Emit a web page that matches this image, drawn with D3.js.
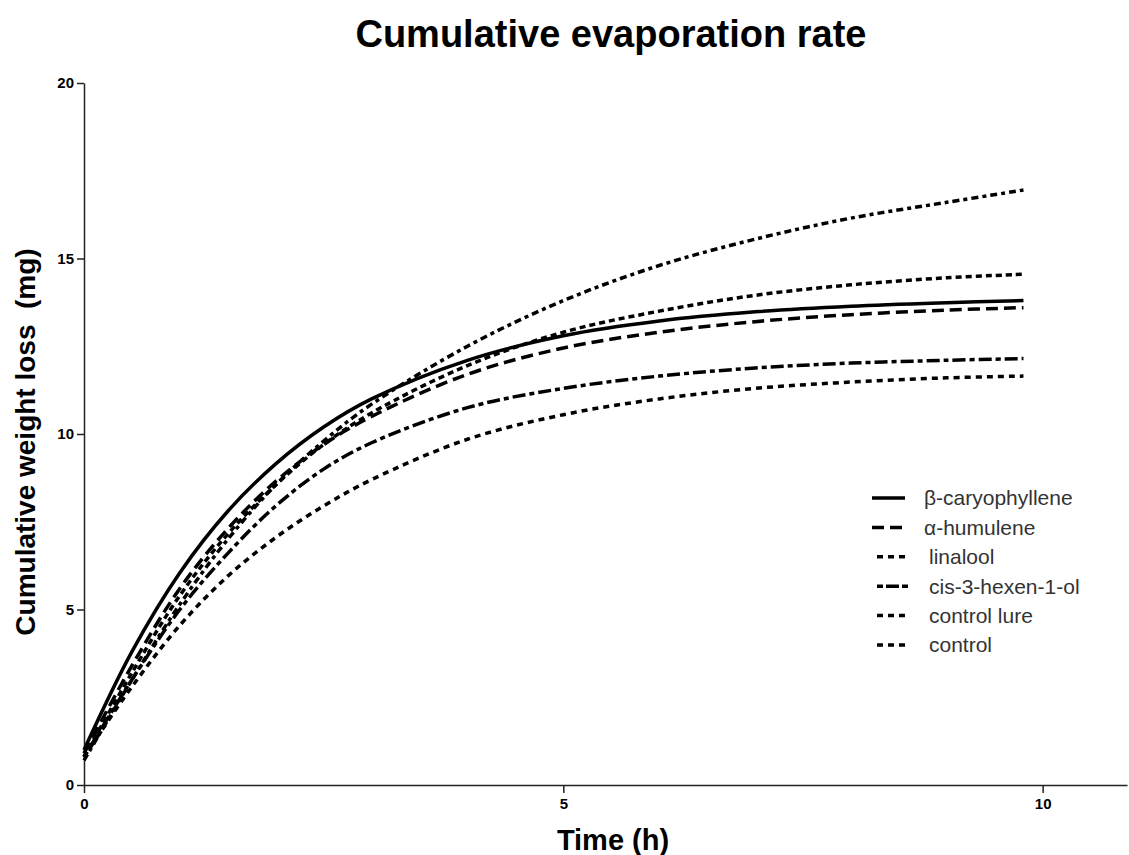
<!DOCTYPE html>
<html>
<head>
<meta charset="utf-8">
<script src="https://cdn.jsdelivr.net/npm/d3@7"></script>
<style>
  body { margin: 0; background: #fff; }
  text { font-family: "Liberation Sans", Arial, sans-serif; }
</style>
</head>
<body>
<script>
/* data */
var times = [0, 0.5, 1, 1.5, 2, 2.5, 3, 4, 5, 6, 7, 8, 9, 9.8];
var caryophyllene = [1.0, 3.8, 6.05, 7.8, 9.15, 10.2, 11.0, 12.1, 12.8, 13.22, 13.48, 13.64, 13.74, 13.8];
var humulene = [0.9, 3.4, 5.6, 7.3, 8.65, 9.7, 10.5, 11.7, 12.45, 12.9, 13.2, 13.4, 13.53, 13.6];
var linalool = [0.8, 3.2, 5.4, 7.15, 8.55, 9.7, 10.6, 11.95, 12.9, 13.5, 13.95, 14.25, 14.45, 14.55];
var hexenol = [0.8, 3.0, 5.0, 6.6, 7.95, 9.0, 9.75, 10.75, 11.3, 11.65, 11.88, 12.02, 12.1, 12.15];
var controlLure = [0.7, 3.0, 5.15, 7.0, 8.55, 9.8, 10.85, 12.5, 13.8, 14.8, 15.55, 16.15, 16.6, 16.95];
var control = [0.8, 2.8, 4.55, 5.95, 7.05, 7.95, 8.7, 9.85, 10.55, 11.0, 11.3, 11.48, 11.6, 11.65];

var seriesNames = ["\u03b2-caryophyllene", "\u03b1-humulene", "linalool", "cis-3-hexen-1-ol", "control lure", "control"];
var seriesValues = [caryophyllene, humulene, linalool, hexenol, controlLure, control];
var dashes = ["none", "12,6", "6,4", "5,4,13,4", "7,4,4,4", "6,5"];

var xTicks = [0, 5, 10];
var yTicks = [0, 5, 10, 15, 20];

/* svg bodyspace */
var width = 1129, height = 855;
var svg = d3.select("body").append("svg")
    .attr("width", width)
    .attr("height", height);

var x = d3.scaleLinear().domain([0, 10.88]).range([84, 1127]);
var y = d3.scaleLinear().domain([0, 20]).range([785, 83]);

/* title */
svg.append("text")
    .attr("x", 611)
    .attr("y", 47)
    .attr("text-anchor", "middle")
    .attr("font-size", 38)
    .attr("font-weight", "bold")
    .attr("fill", "#000")
    .text("Cumulative evaporation rate");

/* axes */
var xAxis = svg.append("g")
    .attr("transform", "translate(0,785)")
    .call(d3.axisBottom(x).tickValues(xTicks).tickSize(8).tickSizeOuter(0).tickFormat(d3.format("d")));
var yAxis = svg.append("g")
    .attr("transform", "translate(84,0)")
    .call(d3.axisLeft(y).tickValues(yTicks).tickSize(7).tickSizeOuter(0).tickFormat(d3.format("d")));

svg.selectAll(".domain, .tick line")
    .attr("stroke", "#222")
    .attr("stroke-width", 1.5);
svg.selectAll(".tick text")
    .style("font-family", "Liberation Sans, Arial, sans-serif")
    .style("font-size", "15px")
    .style("font-weight", "bold")
    .attr("fill", "#000");
xAxis.selectAll(".tick text").attr("dy", "0.85em");
yAxis.selectAll(".tick text").attr("x", -10);

/* axis titles */
svg.append("text")
    .attr("x", 613)
    .attr("y", 850)
    .attr("text-anchor", "middle")
    .attr("font-size", 29)
    .attr("font-weight", "bold")
    .attr("fill", "#000")
    .text("Time (h)");

svg.append("text")
    .attr("transform", "translate(35,442) rotate(-90)")
    .attr("text-anchor", "middle")
    .attr("font-size", 28)
    .attr("font-weight", "bold")
    .attr("fill", "#000")
    .style("white-space", "pre")
    .text("Cumulative weight loss  (mg)");

/* curves */
var line = d3.line()
    .x(function(d, i){ return x(times[i]); })
    .y(function(d){ return y(d); })
    .curve(d3.curveCatmullRom.alpha(0.5));

svg.selectAll(".curve")
    .data(seriesValues)
    .enter().append("path")
    .attr("class", "curve")
    .attr("d", line)
    .attr("fill", "none")
    .attr("stroke", "#000")
    .attr("stroke-width", 3.5)
    .attr("stroke-dasharray", function(d, i){ return dashes[i]; });

/* legend */
var legend = svg.selectAll(".legend")
    .data(seriesNames)
    .enter().append("g")
    .attr("class", "legend")
    .attr("transform", function(d, i){ return "translate(0," + (498 + i * 29.4) + ")"; });

legend.append("line")
    .attr("x1", function(d, i){ return i < 2 ? 872 : 877; })
    .attr("x2", function(d, i){ return i < 2 ? 905 : 910; })
    .attr("y1", 0)
    .attr("y2", 0)
    .attr("stroke", "#000")
    .attr("stroke-width", 3.5)
    .attr("stroke-dasharray", function(d, i){ return i == 0 ? "none" : (i == 1 ? "12,6" : (i == 3 ? "6,3,13,3" : "6,5")); });

legend.append("text")
    .attr("x", function(d, i){ return i < 2 ? 924 : 929; })
    .attr("y", 0)
    .attr("dy", "0.35em")
    .attr("font-size", 21)
    .attr("fill", "#333")
    .text(function(d){ return d; });
</script>
</body>
</html>
